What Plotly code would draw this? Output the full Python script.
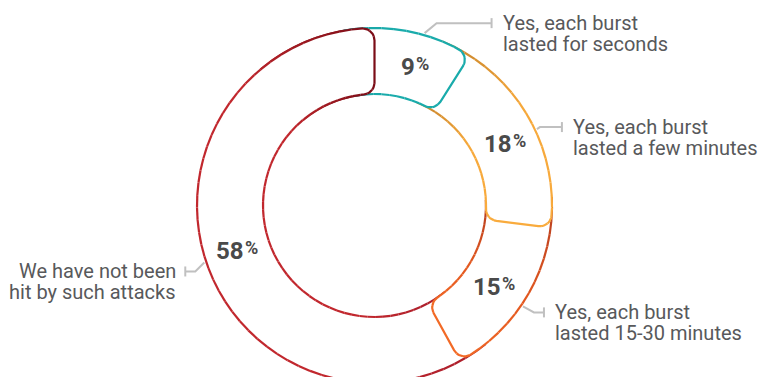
import math
import numpy as np
import plotly.graph_objects as go

# ---------------- data ----------------
categories = [
    ["Yes, each burst", "lasted for seconds"],
    ["Yes, each burst", "lasted a few minutes"],
    ["Yes, each burst", "lasted 15-30 minutes"],
    ["We have not been", "hit by such attacks"],
]
values = [9, 18, 15, 58]

# ---------------- style ----------------
W, H = 768, 377
CX, CY = 374.5, 205.5
R_OUT, R_IN = 177.5, 111.5
CORNER = 12.0
OVERLAP = 10.0          # degrees each slice tucks under the previous one
LW = 2.2
TAIL_SPAN = 40.0        # degrees of the last slice redrawn on top (wrap-around)
colour_stops = [
    [(0.0, "#1b9c9e"), (0.3, "#19abab"), (1.0, "#19abab")],
    [(0.0, "#c4822b"), (0.45, "#f6a83a"), (1.0, "#f9ab3d")],
    [(0.0, "#b43c1f"), (0.55, "#e3581f"), (1.0, "#f26a26")],
    [(0.0, "#a81d2b"), (0.2, "#c1272d"), (0.78, "#c1272d"), (0.94, "#8b121b"), (1.0, "#7b0d17")],
]
label_angle_nudge = [0.0, 0.0, 0.0, -4.1]
leader_dx = [12, 3, 11, -9]
leader_dy = [-10, -2, 6, 9]
leader_len = [55, 22, 10, 10]
LEADER_COL = "#c0c0c0"
TEXT_COL = "#58595b"
PCT_COL = "#4a4a4a"
LINE_GAP = 20.5
PCT_SIZE, PCT_SIGN_SIZE = 24, 18
DIGIT_W, SIGN_W = 13.5, 13.0


def u(theta):
    t = math.radians(theta)
    return math.sin(t), -math.cos(t)


def hex2rgb(h):
    h = h.lstrip("#")
    return tuple(int(h[i:i + 2], 16) for i in (0, 2, 4))


def colour_at(stops, f):
    f = min(max(f, 0.0), 1.0)
    for (f0, c0), (f1, c1) in zip(stops[:-1], stops[1:]):
        if f <= f1:
            t = 0 if f1 == f0 else (f - f0) / (f1 - f0)
            a, b = hex2rgb(c0), hex2rgb(c1)
            return "rgb(%d,%d,%d)" % tuple(round(a[i] + (b[i] - a[i]) * t) for i in range(3))
    return stops[-1][1]


def corner_arc(cen, p0, p1, n=14):
    a0 = math.atan2(p0[1] - cen[1], p0[0] - cen[0])
    a1 = math.atan2(p1[1] - cen[1], p1[0] - cen[0])
    d = (a1 - a0 + math.pi) % (2 * math.pi) - math.pi
    rr = math.hypot(p0[0] - cen[0], p0[1] - cen[1])
    return [(cen[0] + rr * math.cos(a0 + d * k / n), cen[1] + rr * math.sin(a0 + d * k / n)) for k in range(n + 1)]


def seg_path(a0, a1):
    c = CORNER
    bo = math.degrees(math.asin(c / (R_OUT - c)))
    bi = math.degrees(math.asin(c / (R_IN + c)))
    po, pi_ = a1 - bo, a1 - bi
    pts = []
    n = max(2, int((po - a0) / 0.8))
    for k in range(n + 1):
        th = a0 + (po - a0) * k / n
        ux, uy = u(th)
        pts.append((CX + R_OUT * ux, CY + R_OUT * uy))
    ux, uy = u(po)
    co = (CX + (R_OUT - c) * ux, CY + (R_OUT - c) * uy)
    to = (CX + R_OUT * ux, CY + R_OUT * uy)
    ex, ey = u(a1)
    ro = (CX + (R_OUT - c) * math.cos(math.radians(bo)) * ex, CY + (R_OUT - c) * math.cos(math.radians(bo)) * ey)
    pts += corner_arc(co, to, ro)[1:]
    ux, uy = u(pi_)
    ci = (CX + (R_IN + c) * ux, CY + (R_IN + c) * uy)
    ti = (CX + R_IN * ux, CY + R_IN * uy)
    ri = (CX + (R_IN + c) * math.cos(math.radians(bi)) * ex, CY + (R_IN + c) * math.cos(math.radians(bi)) * ey)
    pts += corner_arc(ci, ri, ti)
    n = max(2, int((pi_ - a0) / 0.8))
    for k in range(1, n + 1):
        th = pi_ - (pi_ - a0) * k / n
        ux, uy = u(th)
        pts.append((CX + R_IN * ux, CY + R_IN * uy))
    return pts


def angle_of(p, ref):
    th = math.degrees(math.atan2(p[0] - CX, -(p[1] - CY)))
    return (th - ref) % 360 + ref


fig = go.Figure()


def draw(pts, stops, f_a0, f_a1, chunk=5):
    xs = [p[0] for p in pts]
    ys = [p[1] for p in pts]
    fig.add_trace(go.Scatter(x=xs, y=ys, fill="toself", fillcolor="white", mode="lines",
                             line=dict(width=0), hoverinfo="skip", showlegend=False))
    fr = [(angle_of(p, f_a0 - 1e-6) - f_a0) / (f_a1 - f_a0) for p in pts]
    for i in range(0, len(pts) - 1, chunk):
        seg = pts[i:i + chunk + 1]
        f = float(np.mean(fr[i:i + chunk + 1]))
        fig.add_trace(go.Scatter(x=[p[0] for p in seg], y=[p[1] for p in seg], mode="lines",
                                 line=dict(color=colour_at(stops, f), width=LW),
                                 hoverinfo="skip", showlegend=False))


total = float(sum(values))
ends = np.cumsum(values) / total * 360.0
starts = ends - np.array(values) / total * 360.0

# last slice first (bottom), then the others so each covers the next one's start
order = [len(values) - 1] + list(range(len(values) - 2, -1, -1))
for i in order:
    a0 = starts[i] - OVERLAP
    draw(seg_path(a0, ends[i]), colour_stops[i], a0, ends[i])
# wrap-around: tail of last slice on top of the first slice's start
last = len(values) - 1
draw(seg_path(ends[last] - TAIL_SPAN, ends[last]), colour_stops[last], starts[last] - OVERLAP, ends[last])

# labels and leaders
R_MID = (R_OUT + R_IN) / 2
for i, v in enumerate(values):
    mid = (starts[i] + ends[i]) / 2 + label_angle_nudge[i]
    ux, uy = u(mid)
    px, py = CX + R_MID * ux, CY + R_MID * uy
    num = str(v)
    split_x = px + (len(num) * DIGIT_W + SIGN_W) / 2 - SIGN_W
    fig.add_annotation(x=split_x, y=py, text="<b>%s</b>" % num,
                       showarrow=False, xanchor="right", yanchor="middle",
                       borderpad=0, borderwidth=0,
                       font=dict(family="Roboto", size=PCT_SIZE, color=PCT_COL))
    fig.add_annotation(x=split_x + 0.5, y=py - 3.5, text="<b>%</b>",
                       showarrow=False, xanchor="left", yanchor="middle",
                       borderpad=0, borderwidth=0,
                       font=dict(family="Roboto", size=PCT_SIGN_SIZE, color=PCT_COL))
    sx, sy = CX + (R_OUT + 2) * ux, CY + (R_OUT + 2) * uy
    exx, eyy = sx + leader_dx[i], sy + leader_dy[i]
    side = 1 if ux >= 0 else -1
    tx = exx + side * leader_len[i]
    fig.add_trace(go.Scatter(x=[sx, exx, tx, None, tx, tx], y=[sy, eyy, eyy, None, eyy - 5, eyy + 5],
                             mode="lines", line=dict(color=LEADER_COL, width=2),
                             hoverinfo="skip", showlegend=False))
    for j, line in enumerate(categories[i]):
        fig.add_annotation(x=tx + (9 if side > 0 else -7), y=eyy + j * LINE_GAP, text=line,
                           showarrow=False, xanchor="left" if side > 0 else "right", yanchor="middle",
                           font=dict(family="Roboto", size=20, color=TEXT_COL))

fig.update_layout(
    width=W, height=H, margin=dict(l=0, r=0, t=0, b=0),
    paper_bgcolor="white", plot_bgcolor="white", showlegend=False,
    xaxis=dict(range=[0, W], visible=False, fixedrange=True),
    yaxis=dict(range=[H, 0], visible=False, fixedrange=True),
)
fig.write_html("out.html")
